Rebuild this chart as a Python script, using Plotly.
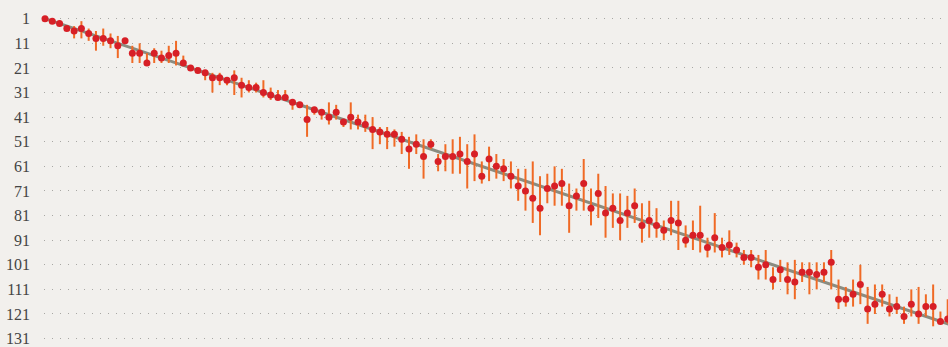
import plotly.graph_objects as go

# Position of each item (1..125) and its estimated rank with an interval
position = list(range(1, 126))

rank = [
    1, 2, 3, 5, 6, 5, 7, 9, 9, 10, 12, 10, 15, 15, 19, 15, 17, 16, 15, 19,
    21, 22, 23, 25, 25, 26, 25, 28, 29, 29, 31, 32, 33, 33, 35, 36, 42, 38, 39, 41,
    39, 43, 41, 43, 44, 46, 47, 48, 48, 50, 54, 52, 57, 52, 59, 57, 57, 56, 59, 56,
    65, 58, 61, 62, 65, 69, 71, 74, 78, 70, 69, 68, 77, 73, 68, 78, 72, 80, 78, 83,
    80, 77, 85, 83, 85, 87, 83, 84, 91, 89, 89, 94, 90, 94, 93, 95, 98, 98, 102, 101,
    107, 103, 107, 108, 104, 104, 105, 104, 100, 115, 115, 113, 109, 119, 117, 113, 119, 118, 122, 117,
    121, 118, 118, 124, 123,
]

rank_low = [
    1, 2, 3, 5, 4, 2, 5, 6, 5, 7, 8, 10, 12, 11, 15, 13, 14, 12, 10, 16,
    21, 22, 22, 23, 23, 25, 22, 25, 26, 27, 26, 29, 30, 30, 34, 35, 36, 37, 38, 35,
    36, 42, 35, 40, 40, 41, 45, 45, 46, 47, 49, 48, 50, 50, 56, 52, 50, 49, 52, 48,
    59, 53, 56, 58, 59, 62, 62, 59, 65, 64, 61, 62, 68, 70, 58, 70, 64, 69, 72, 72,
    73, 70, 76, 75, 78, 83, 75, 75, 85, 83, 77, 90, 80, 90, 87, 92, 95, 95, 97, 95,
    102, 99, 100, 99, 100, 100, 100, 100, 95, 107, 110, 107, 101, 110, 109, 109, 113, 114, 118, 111,
    110, 113, 109, 120, 115,
]

rank_high = [
    1, 2, 3, 5, 9, 9, 10, 14, 12, 13, 17, 10, 19, 19, 20, 19, 19, 19, 20, 20,
    21, 22, 26, 31, 28, 28, 32, 33, 31, 31, 33, 34, 34, 34, 38, 37, 49, 40, 42, 44,
    42, 45, 46, 46, 47, 54, 52, 54, 53, 56, 62, 56, 66, 54, 63, 63, 64, 64, 70, 67,
    68, 67, 66, 67, 70, 75, 79, 84, 89, 76, 77, 77, 88, 79, 79, 85, 82, 90, 86, 91,
    86, 84, 92, 90, 90, 91, 89, 95, 94, 95, 96, 98, 96, 98, 97, 98, 101, 102, 107, 107,
    111, 108, 113, 115, 108, 113, 111, 108, 111, 119, 118, 118, 117, 125, 121, 118, 122, 121, 125, 122,
    125, 122, 126, 125, 125,
]

tick_values = list(range(1, 132, 10))
tick_labels = [str(v) for v in tick_values]

err_plus = [h - r for h, r in zip(rank_high, rank)]
err_minus = [r - l for r, l in zip(rank, rank_low)]

fig = go.Figure()

# Reference diagonal: estimated rank equals position
fig.add_trace(go.Scatter(
    x=[1, 140], y=[1, 140],
    mode="lines",
    line=dict(color="#8b8c80", width=3),
    hoverinfo="skip",
    showlegend=False,
))

fig.add_trace(go.Scatter(
    x=position, y=rank,
    mode="markers",
    marker=dict(color="#d71f26", size=7),
    error_y=dict(
        type="data", symmetric=False,
        array=err_plus, arrayminus=err_minus,
        color="#f06a25", thickness=2, width=0,
    ),
    cliponaxis=False,
    showlegend=False,
))

fig.update_layout(
    width=948, height=347,
    margin=dict(l=44, r=0, t=0, b=0),
    paper_bgcolor="#f2f0ed",
    plot_bgcolor="#f2f0ed",
    showlegend=False,
    xaxis=dict(
        range=[0.863, 125.04],
        showgrid=False, zeroline=False, showticklabels=False,
        showline=False, ticks="",
    ),
    yaxis=dict(
        range=[133.6, -6.6],
        tickmode="array", tickvals=tick_values, ticktext=tick_labels,
        showgrid=True, gridcolor="#a8a7a3", gridwidth=1, griddash="1px,7px",
        zeroline=False, showline=False, ticks="",
        ticklabelstandoff=13,
        ticklabeloverflow="allow",
        tickfont=dict(family="Liberation Sans Narrow", size=16, color="#444444"),
    ),
)

fig.write_html("out.html")
